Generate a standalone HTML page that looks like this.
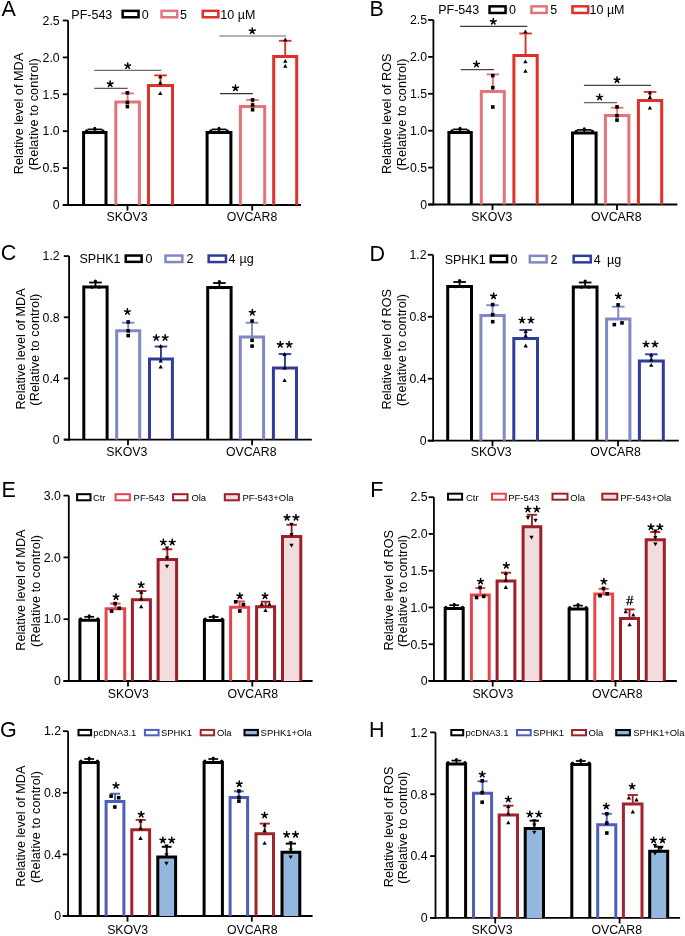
<!DOCTYPE html>
<html><head><meta charset="utf-8"><style>
html,body{margin:0;padding:0;background:#fff;overflow:hidden;}
svg{display:block;will-change:transform;}
text{font-family:"Liberation Sans", sans-serif;}
</style></head><body>
<svg width="685" height="936" viewBox="0 0 685 936">
<rect width="685" height="936" fill="#fff"/>
<text x="1.45" y="15.60" font-size="21.5" text-anchor="start" fill="#000" >A</text>
<line x1="68.10" y1="20.50" x2="68.10" y2="205.90" stroke="#000" stroke-width="1.8" stroke-linecap="butt"/>
<line x1="62.80" y1="205.00" x2="68.10" y2="205.00" stroke="#000" stroke-width="1.8" stroke-linecap="butt"/>
<text x="59.70" y="209.29" font-size="12.3" text-anchor="end" fill="#000" >0</text>
<line x1="62.80" y1="168.10" x2="68.10" y2="168.10" stroke="#000" stroke-width="1.8" stroke-linecap="butt"/>
<text x="59.70" y="172.39" font-size="12.3" text-anchor="end" fill="#000" >0.5</text>
<line x1="62.80" y1="131.20" x2="68.10" y2="131.20" stroke="#000" stroke-width="1.8" stroke-linecap="butt"/>
<text x="59.70" y="135.49" font-size="12.3" text-anchor="end" fill="#000" >1.0</text>
<line x1="62.80" y1="94.30" x2="68.10" y2="94.30" stroke="#000" stroke-width="1.8" stroke-linecap="butt"/>
<text x="59.70" y="98.59" font-size="12.3" text-anchor="end" fill="#000" >1.5</text>
<line x1="62.80" y1="57.40" x2="68.10" y2="57.40" stroke="#000" stroke-width="1.8" stroke-linecap="butt"/>
<text x="59.70" y="61.69" font-size="12.3" text-anchor="end" fill="#000" >2.0</text>
<line x1="62.80" y1="20.50" x2="68.10" y2="20.50" stroke="#000" stroke-width="1.8" stroke-linecap="butt"/>
<text x="59.70" y="24.79" font-size="12.3" text-anchor="end" fill="#000" >2.5</text>
<line x1="62.80" y1="205.00" x2="301.00" y2="205.00" stroke="#000" stroke-width="1.8" stroke-linecap="butt"/>
<line x1="127.50" y1="205.00" x2="127.50" y2="210.60" stroke="#000" stroke-width="1.8" stroke-linecap="butt"/>
<text x="127.10" y="221.10" font-size="12.3" text-anchor="middle" fill="#000" >SKOV3</text>
<line x1="252.20" y1="205.00" x2="252.20" y2="210.60" stroke="#000" stroke-width="1.8" stroke-linecap="butt"/>
<text x="252.00" y="221.10" font-size="12.3" text-anchor="middle" fill="#000" >OVCAR8</text>
<text x="0" y="0" font-size="12.7" text-anchor="middle" transform="translate(23.00,113.50) rotate(-90)">Relative level of MDA</text>
<text x="0" y="0" font-size="12.7" text-anchor="middle" textLength="112" lengthAdjust="spacing" transform="translate(38.10,114.30) rotate(-90)">(Relative to control)</text>
<text x="71.30" y="19.00" font-size="12.5" text-anchor="start" fill="#000" >PF-543</text>
<rect x="122.65" y="10.85" width="15.90" height="6.40" fill="none" stroke="#000" stroke-width="2.5"/>
<text x="141.80" y="19.00" font-size="12.5" text-anchor="start" fill="#000" >0</text>
<rect x="161.55" y="10.85" width="15.70" height="6.40" fill="none" stroke="#E2747A" stroke-width="2.5"/>
<text x="180.00" y="19.00" font-size="12.5" text-anchor="start" fill="#000" >5</text>
<rect x="202.75" y="10.85" width="15.60" height="6.40" fill="none" stroke="#DD3129" stroke-width="2.5"/>
<text x="220.30" y="19.00" font-size="12.5" text-anchor="start" fill="#000" >10 µM</text>
<line x1="94.80" y1="132.40" x2="94.80" y2="129.40" stroke="#000" stroke-width="1.7" stroke-linecap="butt"/>
<line x1="87.55" y1="129.40" x2="102.05" y2="129.40" stroke="#000" stroke-width="1.7" stroke-linecap="butt"/>
<path d="M83.60,205.00V132.40H106.00V205.00" fill="none" stroke="#000" stroke-width="3.0" stroke-linejoin="miter"/>
<circle cx="86.60" cy="130.70" r="1.50" fill="#000"/>
<circle cx="103.00" cy="130.70" r="1.50" fill="#000"/>
<circle cx="94.80" cy="128.30" r="1.50" fill="#000"/>
<line x1="127.60" y1="102.00" x2="127.60" y2="93.40" stroke="#E2747A" stroke-width="1.9" stroke-linecap="butt"/>
<line x1="121.35" y1="93.40" x2="133.85" y2="93.40" stroke="#E2747A" stroke-width="1.9" stroke-linecap="butt"/>
<path d="M115.80,205.00V102.00H139.40V205.00" fill="none" stroke="#E2747A" stroke-width="3.0" stroke-linejoin="miter"/>
<rect x="125.60" y="91.00" width="3.60" height="3.60" fill="#000"/>
<rect x="125.60" y="100.70" width="3.60" height="3.60" fill="#000"/>
<rect x="125.60" y="104.80" width="3.60" height="3.60" fill="#000"/>
<line x1="160.50" y1="85.50" x2="160.50" y2="75.40" stroke="#DD3129" stroke-width="1.9" stroke-linecap="butt"/>
<line x1="154.25" y1="75.40" x2="166.75" y2="75.40" stroke="#DD3129" stroke-width="1.9" stroke-linecap="butt"/>
<path d="M148.50,205.00V85.50H172.50V205.00" fill="none" stroke="#DD3129" stroke-width="3.0" stroke-linejoin="miter"/>
<path d="M160.30,74.51L162.46,78.29L158.14,78.29Z" fill="#000"/>
<path d="M160.30,80.81L162.46,84.59L158.14,84.59Z" fill="#000"/>
<path d="M160.30,91.31L162.46,95.09L158.14,95.09Z" fill="#000"/>
<line x1="219.00" y1="132.40" x2="219.00" y2="129.40" stroke="#000" stroke-width="1.7" stroke-linecap="butt"/>
<line x1="211.75" y1="129.40" x2="226.25" y2="129.40" stroke="#000" stroke-width="1.7" stroke-linecap="butt"/>
<path d="M207.10,205.00V132.40H230.90V205.00" fill="none" stroke="#000" stroke-width="3.0" stroke-linejoin="miter"/>
<circle cx="210.80" cy="130.70" r="1.50" fill="#000"/>
<circle cx="227.20" cy="130.70" r="1.50" fill="#000"/>
<circle cx="219.00" cy="128.30" r="1.50" fill="#000"/>
<line x1="252.55" y1="106.40" x2="252.55" y2="99.90" stroke="#E2747A" stroke-width="1.9" stroke-linecap="butt"/>
<line x1="246.30" y1="99.90" x2="258.80" y2="99.90" stroke="#E2747A" stroke-width="1.9" stroke-linecap="butt"/>
<path d="M240.40,205.00V106.40H264.70V205.00" fill="none" stroke="#E2747A" stroke-width="3.0" stroke-linejoin="miter"/>
<rect x="250.80" y="98.10" width="3.60" height="3.60" fill="#000"/>
<rect x="250.80" y="103.20" width="3.60" height="3.60" fill="#000"/>
<rect x="250.80" y="107.90" width="3.60" height="3.60" fill="#000"/>
<line x1="285.20" y1="56.50" x2="285.20" y2="40.80" stroke="#DD3129" stroke-width="1.9" stroke-linecap="butt"/>
<line x1="278.95" y1="40.80" x2="291.45" y2="40.80" stroke="#DD3129" stroke-width="1.9" stroke-linecap="butt"/>
<path d="M273.70,205.00V56.50H296.70V205.00" fill="none" stroke="#DD3129" stroke-width="3.0" stroke-linejoin="miter"/>
<path d="M285.30,37.41L287.46,41.19L283.14,41.19Z" fill="#000"/>
<path d="M285.30,58.91L287.46,62.69L283.14,62.69Z" fill="#000"/>
<path d="M285.30,64.01L287.46,67.79L283.14,67.79Z" fill="#000"/>
<line x1="94.20" y1="70.40" x2="161.30" y2="70.40" stroke="#6e6e6e" stroke-width="1.3" stroke-linecap="butt"/>
<line x1="94.20" y1="88.40" x2="127.70" y2="88.40" stroke="#5a5a5a" stroke-width="1.2" stroke-linecap="butt"/>
<line x1="219.30" y1="36.00" x2="286.10" y2="36.00" stroke="#9a9a9a" stroke-width="1.6" stroke-linecap="butt"/>
<line x1="220.00" y1="93.60" x2="253.00" y2="93.60" stroke="#333" stroke-width="1.1" stroke-linecap="butt"/>
<path d="M127.70,65.88L127.70,62.93M127.70,65.88L130.51,64.97M127.70,65.88L129.43,68.27M127.70,65.88L125.97,68.27M127.70,65.88L124.89,64.97" stroke="#000" stroke-width="1.55" stroke-linecap="round" fill="none"/>
<path d="M110.20,83.98L110.20,81.03M110.20,83.98L113.01,83.07M110.20,83.98L111.93,86.37M110.20,83.98L108.47,86.37M110.20,83.98L107.39,83.07" stroke="#000" stroke-width="1.55" stroke-linecap="round" fill="none"/>
<path d="M252.30,30.98L252.30,28.03M252.30,30.98L255.11,30.07M252.30,30.98L254.03,33.37M252.30,30.98L250.57,33.37M252.30,30.98L249.49,30.07" stroke="#000" stroke-width="1.55" stroke-linecap="round" fill="none"/>
<path d="M235.50,88.08L235.50,85.13M235.50,88.08L238.31,87.17M235.50,88.08L237.23,90.47M235.50,88.08L233.77,90.47M235.50,88.08L232.69,87.17" stroke="#000" stroke-width="1.55" stroke-linecap="round" fill="none"/>
<text x="369.60" y="16.40" font-size="21.5" text-anchor="start" fill="#000" >B</text>
<line x1="433.40" y1="20.00" x2="433.40" y2="205.40" stroke="#000" stroke-width="1.8" stroke-linecap="butt"/>
<line x1="428.10" y1="204.50" x2="433.40" y2="204.50" stroke="#000" stroke-width="1.8" stroke-linecap="butt"/>
<text x="427.10" y="208.79" font-size="12.3" text-anchor="end" fill="#000" >0</text>
<line x1="428.10" y1="167.60" x2="433.40" y2="167.60" stroke="#000" stroke-width="1.8" stroke-linecap="butt"/>
<text x="427.10" y="171.89" font-size="12.3" text-anchor="end" fill="#000" >0.5</text>
<line x1="428.10" y1="130.70" x2="433.40" y2="130.70" stroke="#000" stroke-width="1.8" stroke-linecap="butt"/>
<text x="427.10" y="134.99" font-size="12.3" text-anchor="end" fill="#000" >1.0</text>
<line x1="428.10" y1="93.80" x2="433.40" y2="93.80" stroke="#000" stroke-width="1.8" stroke-linecap="butt"/>
<text x="427.10" y="98.09" font-size="12.3" text-anchor="end" fill="#000" >1.5</text>
<line x1="428.10" y1="56.90" x2="433.40" y2="56.90" stroke="#000" stroke-width="1.8" stroke-linecap="butt"/>
<text x="427.10" y="61.19" font-size="12.3" text-anchor="end" fill="#000" >2.0</text>
<line x1="428.10" y1="20.00" x2="433.40" y2="20.00" stroke="#000" stroke-width="1.8" stroke-linecap="butt"/>
<text x="427.10" y="24.29" font-size="12.3" text-anchor="end" fill="#000" >2.5</text>
<line x1="428.10" y1="204.50" x2="677.30" y2="204.50" stroke="#000" stroke-width="1.8" stroke-linecap="butt"/>
<line x1="492.50" y1="204.50" x2="492.50" y2="210.10" stroke="#000" stroke-width="1.8" stroke-linecap="butt"/>
<text x="491.80" y="220.90" font-size="12.3" text-anchor="middle" fill="#000" >SKOV3</text>
<line x1="617.00" y1="204.50" x2="617.00" y2="210.10" stroke="#000" stroke-width="1.8" stroke-linecap="butt"/>
<text x="616.20" y="220.90" font-size="12.3" text-anchor="middle" fill="#000" >OVCAR8</text>
<text x="0" y="0" font-size="12.7" text-anchor="middle" transform="translate(391.00,113.80) rotate(-90)">Relative level of ROS</text>
<text x="0" y="0" font-size="12.7" text-anchor="middle" textLength="112" lengthAdjust="spacing" transform="translate(405.80,114.60) rotate(-90)">(Relative to control)</text>
<text x="438.20" y="14.40" font-size="12.5" text-anchor="start" fill="#000" >PF-543</text>
<rect x="489.55" y="6.35" width="16.00" height="6.60" fill="none" stroke="#000" stroke-width="2.5"/>
<text x="509.00" y="14.40" font-size="12.5" text-anchor="start" fill="#000" >0</text>
<rect x="531.45" y="6.35" width="15.20" height="6.60" fill="none" stroke="#E2747A" stroke-width="2.5"/>
<text x="550.20" y="14.40" font-size="12.5" text-anchor="start" fill="#000" >5</text>
<rect x="572.45" y="6.35" width="15.70" height="6.60" fill="none" stroke="#DD3129" stroke-width="2.5"/>
<text x="589.50" y="14.40" font-size="12.5" text-anchor="start" fill="#000" >10 µM</text>
<line x1="460.10" y1="132.40" x2="460.10" y2="129.40" stroke="#000" stroke-width="1.7" stroke-linecap="butt"/>
<line x1="452.85" y1="129.40" x2="467.35" y2="129.40" stroke="#000" stroke-width="1.7" stroke-linecap="butt"/>
<path d="M448.90,204.50V132.40H471.30V204.50" fill="none" stroke="#000" stroke-width="3.0" stroke-linejoin="miter"/>
<circle cx="451.90" cy="130.70" r="1.50" fill="#000"/>
<circle cx="468.30" cy="130.70" r="1.50" fill="#000"/>
<circle cx="460.10" cy="128.30" r="1.50" fill="#000"/>
<line x1="492.80" y1="91.50" x2="492.80" y2="74.40" stroke="#E2747A" stroke-width="1.9" stroke-linecap="butt"/>
<line x1="486.55" y1="74.40" x2="499.05" y2="74.40" stroke="#E2747A" stroke-width="1.9" stroke-linecap="butt"/>
<path d="M481.30,204.50V91.50H504.30V204.50" fill="none" stroke="#E2747A" stroke-width="3.0" stroke-linejoin="miter"/>
<rect x="491.00" y="73.80" width="3.60" height="3.60" fill="#000"/>
<rect x="491.00" y="85.80" width="3.60" height="3.60" fill="#000"/>
<rect x="491.00" y="105.20" width="3.60" height="3.60" fill="#000"/>
<line x1="525.55" y1="55.50" x2="525.55" y2="33.50" stroke="#DD3129" stroke-width="1.9" stroke-linecap="butt"/>
<line x1="519.30" y1="33.50" x2="531.80" y2="33.50" stroke="#DD3129" stroke-width="1.9" stroke-linecap="butt"/>
<path d="M513.90,204.50V55.50H537.20V204.50" fill="none" stroke="#DD3129" stroke-width="3.0" stroke-linejoin="miter"/>
<path d="M525.40,29.51L527.56,33.29L523.24,33.29Z" fill="#000"/>
<path d="M525.40,59.51L527.56,63.29L523.24,63.29Z" fill="#000"/>
<path d="M525.40,68.91L527.56,72.69L523.24,72.69Z" fill="#000"/>
<line x1="584.30" y1="132.90" x2="584.30" y2="129.90" stroke="#000" stroke-width="1.7" stroke-linecap="butt"/>
<line x1="577.05" y1="129.90" x2="591.55" y2="129.90" stroke="#000" stroke-width="1.7" stroke-linecap="butt"/>
<path d="M572.50,204.50V132.90H596.10V204.50" fill="none" stroke="#000" stroke-width="3.0" stroke-linejoin="miter"/>
<circle cx="576.10" cy="131.20" r="1.50" fill="#000"/>
<circle cx="592.50" cy="131.20" r="1.50" fill="#000"/>
<circle cx="584.30" cy="128.80" r="1.50" fill="#000"/>
<line x1="617.15" y1="115.60" x2="617.15" y2="107.70" stroke="#E2747A" stroke-width="1.9" stroke-linecap="butt"/>
<line x1="610.90" y1="107.70" x2="623.40" y2="107.70" stroke="#E2747A" stroke-width="1.9" stroke-linecap="butt"/>
<path d="M605.40,204.50V115.60H628.90V204.50" fill="none" stroke="#E2747A" stroke-width="3.0" stroke-linejoin="miter"/>
<rect x="615.20" y="105.10" width="3.60" height="3.60" fill="#000"/>
<rect x="615.20" y="113.90" width="3.60" height="3.60" fill="#000"/>
<rect x="615.20" y="118.30" width="3.60" height="3.60" fill="#000"/>
<line x1="650.05" y1="100.50" x2="650.05" y2="91.90" stroke="#DD3129" stroke-width="1.9" stroke-linecap="butt"/>
<line x1="643.80" y1="91.90" x2="656.30" y2="91.90" stroke="#DD3129" stroke-width="1.9" stroke-linecap="butt"/>
<path d="M638.40,204.50V100.50H661.70V204.50" fill="none" stroke="#DD3129" stroke-width="3.0" stroke-linejoin="miter"/>
<path d="M649.90,90.51L652.06,94.29L647.74,94.29Z" fill="#000"/>
<path d="M649.90,95.11L652.06,98.89L647.74,98.89Z" fill="#000"/>
<path d="M649.90,105.81L652.06,109.59L647.74,109.59Z" fill="#000"/>
<line x1="460.10" y1="26.40" x2="527.30" y2="26.40" stroke="#3a3a3a" stroke-width="1.1" stroke-linecap="butt"/>
<line x1="460.70" y1="69.60" x2="494.00" y2="69.60" stroke="#444" stroke-width="1.1" stroke-linecap="butt"/>
<line x1="583.90" y1="85.40" x2="651.00" y2="85.40" stroke="#444" stroke-width="1.2" stroke-linecap="butt"/>
<line x1="583.90" y1="102.60" x2="617.00" y2="102.60" stroke="#666" stroke-width="1.2" stroke-linecap="butt"/>
<path d="M493.30,21.58L493.30,18.63M493.30,21.58L496.11,20.67M493.30,21.58L495.03,23.97M493.30,21.58L491.57,23.97M493.30,21.58L490.49,20.67" stroke="#000" stroke-width="1.55" stroke-linecap="round" fill="none"/>
<path d="M476.50,64.28L476.50,61.33M476.50,64.28L479.31,63.37M476.50,64.28L478.23,66.67M476.50,64.28L474.77,66.67M476.50,64.28L473.69,63.37" stroke="#000" stroke-width="1.55" stroke-linecap="round" fill="none"/>
<path d="M617.00,79.98L617.00,77.03M617.00,79.98L619.81,79.07M617.00,79.98L618.73,82.37M617.00,79.98L615.27,82.37M617.00,79.98L614.19,79.07" stroke="#000" stroke-width="1.55" stroke-linecap="round" fill="none"/>
<path d="M599.60,97.28L599.60,94.33M599.60,97.28L602.41,96.37M599.60,97.28L601.33,99.67M599.60,97.28L597.87,99.67M599.60,97.28L596.79,96.37" stroke="#000" stroke-width="1.55" stroke-linecap="round" fill="none"/>
<text x="0.80" y="260.30" font-size="21.5" text-anchor="start" fill="#000" >C</text>
<line x1="69.10" y1="256.10" x2="69.10" y2="440.50" stroke="#000" stroke-width="1.8" stroke-linecap="butt"/>
<line x1="63.80" y1="439.60" x2="69.10" y2="439.60" stroke="#000" stroke-width="1.8" stroke-linecap="butt"/>
<text x="59.70" y="443.89" font-size="12.3" text-anchor="end" fill="#000" >0</text>
<line x1="63.80" y1="378.43" x2="69.10" y2="378.43" stroke="#000" stroke-width="1.8" stroke-linecap="butt"/>
<text x="59.70" y="382.73" font-size="12.3" text-anchor="end" fill="#000" >0.4</text>
<line x1="63.80" y1="317.27" x2="69.10" y2="317.27" stroke="#000" stroke-width="1.8" stroke-linecap="butt"/>
<text x="59.70" y="321.56" font-size="12.3" text-anchor="end" fill="#000" >0.8</text>
<line x1="63.80" y1="256.10" x2="69.10" y2="256.10" stroke="#000" stroke-width="1.8" stroke-linecap="butt"/>
<text x="59.70" y="260.39" font-size="12.3" text-anchor="end" fill="#000" >1.2</text>
<line x1="63.80" y1="439.60" x2="311.80" y2="439.60" stroke="#000" stroke-width="1.8" stroke-linecap="butt"/>
<line x1="128.00" y1="439.60" x2="128.00" y2="445.20" stroke="#000" stroke-width="1.8" stroke-linecap="butt"/>
<text x="126.75" y="456.10" font-size="12.3" text-anchor="middle" fill="#000" >SKOV3</text>
<line x1="252.10" y1="439.60" x2="252.10" y2="445.20" stroke="#000" stroke-width="1.8" stroke-linecap="butt"/>
<text x="251.20" y="456.10" font-size="12.3" text-anchor="middle" fill="#000" >OVCAR8</text>
<text x="0" y="0" font-size="12.7" text-anchor="middle" transform="translate(24.50,348.90) rotate(-90)">Relative level of MDA</text>
<text x="0" y="0" font-size="12.7" text-anchor="middle" textLength="112" lengthAdjust="spacing" transform="translate(39.30,349.70) rotate(-90)">(Relative to control)</text>
<text x="79.50" y="263.30" font-size="12.5" text-anchor="start" fill="#000" >SPHK1</text>
<rect x="125.75" y="255.55" width="15.90" height="6.30" fill="none" stroke="#000" stroke-width="2.5"/>
<text x="145.60" y="263.30" font-size="12.5" text-anchor="start" fill="#000" >0</text>
<rect x="165.55" y="255.55" width="16.80" height="6.50" fill="none" stroke="#8087C5" stroke-width="2.5"/>
<text x="186.60" y="263.30" font-size="12.5" text-anchor="start" fill="#000" >2</text>
<rect x="208.65" y="255.55" width="17.30" height="6.50" fill="none" stroke="#2F3C9B" stroke-width="2.5"/>
<text x="228.60" y="263.30" font-size="12.5" text-anchor="start" fill="#000" >4</text>
<text x="239.60" y="263.30" font-size="12.5" text-anchor="start" fill="#000" >µg</text>
<line x1="95.45" y1="286.90" x2="95.45" y2="282.50" stroke="#000" stroke-width="1.8" stroke-linecap="butt"/>
<line x1="89.15" y1="282.50" x2="101.75" y2="282.50" stroke="#000" stroke-width="1.8" stroke-linecap="butt"/>
<path d="M83.80,439.60V286.90H107.10V439.60" fill="none" stroke="#000" stroke-width="3.0" stroke-linejoin="miter"/>
<circle cx="91.75" cy="287.20" r="1.60" fill="#000"/>
<circle cx="99.15" cy="287.20" r="1.60" fill="#000"/>
<circle cx="95.45" cy="281.10" r="1.60" fill="#000"/>
<line x1="128.20" y1="330.80" x2="128.20" y2="322.70" stroke="#8087C5" stroke-width="1.9" stroke-linecap="butt"/>
<line x1="121.95" y1="322.70" x2="134.45" y2="322.70" stroke="#8087C5" stroke-width="1.9" stroke-linecap="butt"/>
<path d="M116.70,439.60V330.80H139.70V439.60" fill="none" stroke="#8087C5" stroke-width="3.0" stroke-linejoin="miter"/>
<rect x="126.40" y="320.20" width="3.60" height="3.60" fill="#000"/>
<rect x="126.40" y="329.10" width="3.60" height="3.60" fill="#000"/>
<rect x="126.40" y="333.80" width="3.60" height="3.60" fill="#000"/>
<line x1="160.95" y1="359.10" x2="160.95" y2="346.50" stroke="#2F3C9B" stroke-width="1.9" stroke-linecap="butt"/>
<line x1="154.70" y1="346.50" x2="167.20" y2="346.50" stroke="#2F3C9B" stroke-width="1.9" stroke-linecap="butt"/>
<path d="M149.50,439.60V359.10H172.40V439.60" fill="none" stroke="#2F3C9B" stroke-width="3.0" stroke-linejoin="miter"/>
<path d="M160.70,343.91L162.86,347.69L158.54,347.69Z" fill="#000"/>
<path d="M160.70,358.61L162.86,362.39L158.54,362.39Z" fill="#000"/>
<path d="M160.70,364.71L162.86,368.49L158.54,368.49Z" fill="#000"/>
<line x1="219.40" y1="287.40" x2="219.40" y2="283.00" stroke="#000" stroke-width="1.8" stroke-linecap="butt"/>
<line x1="213.10" y1="283.00" x2="225.70" y2="283.00" stroke="#000" stroke-width="1.8" stroke-linecap="butt"/>
<path d="M207.70,439.60V287.40H231.10V439.60" fill="none" stroke="#000" stroke-width="3.0" stroke-linejoin="miter"/>
<circle cx="215.70" cy="287.70" r="1.60" fill="#000"/>
<circle cx="223.10" cy="287.70" r="1.60" fill="#000"/>
<circle cx="219.40" cy="281.60" r="1.60" fill="#000"/>
<line x1="251.95" y1="337.10" x2="251.95" y2="322.70" stroke="#8087C5" stroke-width="1.9" stroke-linecap="butt"/>
<line x1="245.70" y1="322.70" x2="258.20" y2="322.70" stroke="#8087C5" stroke-width="1.9" stroke-linecap="butt"/>
<path d="M240.30,439.60V337.10H263.60V439.60" fill="none" stroke="#8087C5" stroke-width="3.0" stroke-linejoin="miter"/>
<rect x="250.30" y="319.20" width="3.60" height="3.60" fill="#000"/>
<rect x="250.30" y="338.50" width="3.60" height="3.60" fill="#000"/>
<rect x="250.30" y="344.30" width="3.60" height="3.60" fill="#000"/>
<line x1="284.95" y1="368.10" x2="284.95" y2="354.00" stroke="#2F3C9B" stroke-width="1.9" stroke-linecap="butt"/>
<line x1="278.70" y1="354.00" x2="291.20" y2="354.00" stroke="#2F3C9B" stroke-width="1.9" stroke-linecap="butt"/>
<path d="M273.40,439.60V368.10H296.50V439.60" fill="none" stroke="#2F3C9B" stroke-width="3.0" stroke-linejoin="miter"/>
<path d="M284.60,352.11L286.76,355.89L282.44,355.89Z" fill="#000"/>
<path d="M284.60,365.61L286.76,369.39L282.44,369.39Z" fill="#000"/>
<path d="M284.60,378.31L286.76,382.09L282.44,382.09Z" fill="#000"/>
<path d="M127.40,311.78L127.40,308.83M127.40,311.78L130.21,310.87M127.40,311.78L129.13,314.17M127.40,311.78L125.67,314.17M127.40,311.78L124.59,310.87" stroke="#000" stroke-width="1.55" stroke-linecap="round" fill="none"/>
<path d="M156.25,337.78L156.25,334.83M156.25,337.78L159.06,336.87M156.25,337.78L157.98,340.17M156.25,337.78L154.52,340.17M156.25,337.78L153.44,336.87" stroke="#000" stroke-width="1.55" stroke-linecap="round" fill="none"/>
<path d="M165.15,337.78L165.15,334.83M165.15,337.78L167.96,336.87M165.15,337.78L166.88,340.17M165.15,337.78L163.42,340.17M165.15,337.78L162.34,336.87" stroke="#000" stroke-width="1.55" stroke-linecap="round" fill="none"/>
<path d="M252.30,312.48L252.30,309.53M252.30,312.48L255.11,311.57M252.30,312.48L254.03,314.87M252.30,312.48L250.57,314.87M252.30,312.48L249.49,311.57" stroke="#000" stroke-width="1.55" stroke-linecap="round" fill="none"/>
<path d="M280.25,344.58L280.25,341.63M280.25,344.58L283.06,343.67M280.25,344.58L281.98,346.97M280.25,344.58L278.52,346.97M280.25,344.58L277.44,343.67" stroke="#000" stroke-width="1.55" stroke-linecap="round" fill="none"/>
<path d="M289.15,344.58L289.15,341.63M289.15,344.58L291.96,343.67M289.15,344.58L290.88,346.97M289.15,344.58L287.42,346.97M289.15,344.58L286.34,343.67" stroke="#000" stroke-width="1.55" stroke-linecap="round" fill="none"/>
<text x="369.50" y="260.70" font-size="21.5" text-anchor="start" fill="#000" >D</text>
<line x1="433.10" y1="254.80" x2="433.10" y2="441.60" stroke="#000" stroke-width="1.8" stroke-linecap="butt"/>
<line x1="427.80" y1="440.70" x2="433.10" y2="440.70" stroke="#000" stroke-width="1.8" stroke-linecap="butt"/>
<text x="426.60" y="444.99" font-size="12.3" text-anchor="end" fill="#000" >0</text>
<line x1="427.80" y1="378.73" x2="433.10" y2="378.73" stroke="#000" stroke-width="1.8" stroke-linecap="butt"/>
<text x="426.60" y="383.03" font-size="12.3" text-anchor="end" fill="#000" >0.4</text>
<line x1="427.80" y1="316.77" x2="433.10" y2="316.77" stroke="#000" stroke-width="1.8" stroke-linecap="butt"/>
<text x="426.60" y="321.06" font-size="12.3" text-anchor="end" fill="#000" >0.8</text>
<line x1="427.80" y1="254.80" x2="433.10" y2="254.80" stroke="#000" stroke-width="1.8" stroke-linecap="butt"/>
<text x="426.60" y="259.09" font-size="12.3" text-anchor="end" fill="#000" >1.2</text>
<line x1="427.80" y1="440.70" x2="678.80" y2="440.70" stroke="#000" stroke-width="1.8" stroke-linecap="butt"/>
<line x1="492.50" y1="440.70" x2="492.50" y2="446.30" stroke="#000" stroke-width="1.8" stroke-linecap="butt"/>
<text x="491.20" y="456.30" font-size="12.3" text-anchor="middle" fill="#000" >SKOV3</text>
<line x1="618.00" y1="440.70" x2="618.00" y2="446.30" stroke="#000" stroke-width="1.8" stroke-linecap="butt"/>
<text x="615.60" y="456.30" font-size="12.3" text-anchor="middle" fill="#000" >OVCAR8</text>
<text x="0" y="0" font-size="12.7" text-anchor="middle" transform="translate(391.40,349.20) rotate(-90)">Relative level of ROS</text>
<text x="0" y="0" font-size="12.7" text-anchor="middle" textLength="112" lengthAdjust="spacing" transform="translate(405.70,350.00) rotate(-90)">(Relative to control)</text>
<text x="444.70" y="263.80" font-size="12.5" text-anchor="start" fill="#000" >SPHK1</text>
<rect x="490.75" y="255.75" width="16.30" height="6.40" fill="none" stroke="#000" stroke-width="2.5"/>
<text x="510.60" y="263.80" font-size="12.5" text-anchor="start" fill="#000" >0</text>
<rect x="529.85" y="255.85" width="16.80" height="6.50" fill="none" stroke="#8087C5" stroke-width="2.5"/>
<text x="550.50" y="263.80" font-size="12.5" text-anchor="start" fill="#000" >2</text>
<rect x="573.65" y="255.85" width="17.10" height="6.50" fill="none" stroke="#2F3C9B" stroke-width="2.5"/>
<text x="593.70" y="263.80" font-size="12.5" text-anchor="start" fill="#000" >4</text>
<text x="607.00" y="263.80" font-size="12.5" text-anchor="start" fill="#000" >µg</text>
<line x1="459.60" y1="286.40" x2="459.60" y2="282.00" stroke="#000" stroke-width="1.8" stroke-linecap="butt"/>
<line x1="453.30" y1="282.00" x2="465.90" y2="282.00" stroke="#000" stroke-width="1.8" stroke-linecap="butt"/>
<path d="M447.70,440.70V286.40H471.50V440.70" fill="none" stroke="#000" stroke-width="3.0" stroke-linejoin="miter"/>
<circle cx="455.90" cy="286.70" r="1.60" fill="#000"/>
<circle cx="463.30" cy="286.70" r="1.60" fill="#000"/>
<circle cx="459.60" cy="280.60" r="1.60" fill="#000"/>
<line x1="492.55" y1="315.40" x2="492.55" y2="305.20" stroke="#8087C5" stroke-width="1.9" stroke-linecap="butt"/>
<line x1="486.30" y1="305.20" x2="498.80" y2="305.20" stroke="#8087C5" stroke-width="1.9" stroke-linecap="butt"/>
<path d="M480.90,440.70V315.40H504.20V440.70" fill="none" stroke="#8087C5" stroke-width="3.0" stroke-linejoin="miter"/>
<rect x="490.90" y="302.80" width="3.60" height="3.60" fill="#000"/>
<rect x="490.90" y="312.90" width="3.60" height="3.60" fill="#000"/>
<rect x="490.90" y="319.90" width="3.60" height="3.60" fill="#000"/>
<line x1="525.65" y1="338.50" x2="525.65" y2="330.00" stroke="#2F3C9B" stroke-width="1.9" stroke-linecap="butt"/>
<line x1="519.40" y1="330.00" x2="531.90" y2="330.00" stroke="#2F3C9B" stroke-width="1.9" stroke-linecap="butt"/>
<path d="M513.80,440.70V338.50H537.50V440.70" fill="none" stroke="#2F3C9B" stroke-width="3.0" stroke-linejoin="miter"/>
<path d="M525.70,329.31L527.86,333.09L523.54,333.09Z" fill="#000"/>
<path d="M525.70,333.71L527.86,337.49L523.54,337.49Z" fill="#000"/>
<path d="M525.70,343.61L527.86,347.39L523.54,347.39Z" fill="#000"/>
<line x1="585.15" y1="286.90" x2="585.15" y2="282.50" stroke="#000" stroke-width="1.8" stroke-linecap="butt"/>
<line x1="578.85" y1="282.50" x2="591.45" y2="282.50" stroke="#000" stroke-width="1.8" stroke-linecap="butt"/>
<path d="M573.30,440.70V286.90H597.00V440.70" fill="none" stroke="#000" stroke-width="3.0" stroke-linejoin="miter"/>
<circle cx="581.45" cy="287.20" r="1.60" fill="#000"/>
<circle cx="588.85" cy="287.20" r="1.60" fill="#000"/>
<circle cx="585.15" cy="281.10" r="1.60" fill="#000"/>
<line x1="618.25" y1="319.10" x2="618.25" y2="306.70" stroke="#8087C5" stroke-width="1.9" stroke-linecap="butt"/>
<line x1="612.00" y1="306.70" x2="624.50" y2="306.70" stroke="#8087C5" stroke-width="1.9" stroke-linecap="butt"/>
<path d="M606.60,440.70V319.10H629.90V440.70" fill="none" stroke="#8087C5" stroke-width="3.0" stroke-linejoin="miter"/>
<rect x="616.30" y="303.10" width="3.60" height="3.60" fill="#000"/>
<rect x="612.50" y="322.80" width="3.60" height="3.60" fill="#000"/>
<rect x="620.20" y="321.10" width="3.60" height="3.60" fill="#000"/>
<line x1="651.35" y1="361.10" x2="651.35" y2="354.30" stroke="#2F3C9B" stroke-width="1.9" stroke-linecap="butt"/>
<line x1="645.10" y1="354.30" x2="657.60" y2="354.30" stroke="#2F3C9B" stroke-width="1.9" stroke-linecap="butt"/>
<path d="M639.40,440.70V361.10H663.30V440.70" fill="none" stroke="#2F3C9B" stroke-width="3.0" stroke-linejoin="miter"/>
<path d="M651.20,352.71L653.36,356.49L649.04,356.49Z" fill="#000"/>
<path d="M651.20,357.71L653.36,361.49L649.04,361.49Z" fill="#000"/>
<path d="M651.20,362.91L653.36,366.69L649.04,366.69Z" fill="#000"/>
<path d="M493.60,296.08L493.60,293.13M493.60,296.08L496.41,295.17M493.60,296.08L495.33,298.47M493.60,296.08L491.87,298.47M493.60,296.08L490.79,295.17" stroke="#000" stroke-width="1.55" stroke-linecap="round" fill="none"/>
<path d="M522.05,320.28L522.05,317.33M522.05,320.28L524.86,319.37M522.05,320.28L523.78,322.67M522.05,320.28L520.32,322.67M522.05,320.28L519.24,319.37" stroke="#000" stroke-width="1.55" stroke-linecap="round" fill="none"/>
<path d="M530.95,320.28L530.95,317.33M530.95,320.28L533.76,319.37M530.95,320.28L532.68,322.67M530.95,320.28L529.22,322.67M530.95,320.28L528.14,319.37" stroke="#000" stroke-width="1.55" stroke-linecap="round" fill="none"/>
<path d="M618.40,296.08L618.40,293.13M618.40,296.08L621.21,295.17M618.40,296.08L620.13,298.47M618.40,296.08L616.67,298.47M618.40,296.08L615.59,295.17" stroke="#000" stroke-width="1.55" stroke-linecap="round" fill="none"/>
<path d="M646.05,344.28L646.05,341.33M646.05,344.28L648.86,343.37M646.05,344.28L647.78,346.67M646.05,344.28L644.32,346.67M646.05,344.28L643.24,343.37" stroke="#000" stroke-width="1.55" stroke-linecap="round" fill="none"/>
<path d="M654.95,344.28L654.95,341.33M654.95,344.28L657.76,343.37M654.95,344.28L656.68,346.67M654.95,344.28L653.22,346.67M654.95,344.28L652.14,343.37" stroke="#000" stroke-width="1.55" stroke-linecap="round" fill="none"/>
<text x="1.40" y="496.70" font-size="21.5" text-anchor="start" fill="#000" >E</text>
<line x1="68.80" y1="495.60" x2="68.80" y2="681.90" stroke="#000" stroke-width="1.8" stroke-linecap="butt"/>
<line x1="63.50" y1="681.00" x2="68.80" y2="681.00" stroke="#000" stroke-width="1.8" stroke-linecap="butt"/>
<text x="60.80" y="685.29" font-size="12.3" text-anchor="end" fill="#000" >0</text>
<line x1="63.50" y1="619.20" x2="68.80" y2="619.20" stroke="#000" stroke-width="1.8" stroke-linecap="butt"/>
<text x="60.80" y="623.49" font-size="12.3" text-anchor="end" fill="#000" >1.0</text>
<line x1="63.50" y1="557.40" x2="68.80" y2="557.40" stroke="#000" stroke-width="1.8" stroke-linecap="butt"/>
<text x="60.80" y="561.69" font-size="12.3" text-anchor="end" fill="#000" >2.0</text>
<line x1="63.50" y1="495.60" x2="68.80" y2="495.60" stroke="#000" stroke-width="1.8" stroke-linecap="butt"/>
<text x="60.80" y="499.89" font-size="12.3" text-anchor="end" fill="#000" >3.0</text>
<line x1="63.50" y1="681.00" x2="312.60" y2="681.00" stroke="#000" stroke-width="1.8" stroke-linecap="butt"/>
<line x1="128.00" y1="681.00" x2="128.00" y2="686.60" stroke="#000" stroke-width="1.8" stroke-linecap="butt"/>
<text x="128.35" y="697.70" font-size="12.3" text-anchor="middle" fill="#000" >SKOV3</text>
<line x1="252.30" y1="681.00" x2="252.30" y2="686.60" stroke="#000" stroke-width="1.8" stroke-linecap="butt"/>
<text x="252.85" y="697.70" font-size="12.3" text-anchor="middle" fill="#000" >OVCAR8</text>
<text x="0" y="0" font-size="12.7" text-anchor="middle" transform="translate(24.70,590.10) rotate(-90)">Relative level of MDA</text>
<text x="0" y="0" font-size="12.7" text-anchor="middle" textLength="112" lengthAdjust="spacing" transform="translate(39.70,590.90) rotate(-90)">(Relative to control)</text>
<rect x="77.10" y="494.20" width="13.40" height="6.10" fill="none" stroke="#000" stroke-width="2.0"/>
<text x="92.90" y="501.20" font-size="9.45" text-anchor="start" fill="#000" >Ctr</text>
<rect x="115.60" y="494.20" width="14.20" height="6.10" fill="none" stroke="#E8434A" stroke-width="2.0"/>
<text x="133.60" y="501.20" font-size="9.45" text-anchor="start" fill="#000" >PF-543</text>
<rect x="173.10" y="494.20" width="14.40" height="6.10" fill="none" stroke="#9E1F27" stroke-width="2.0"/>
<text x="191.40" y="501.20" font-size="9.45" text-anchor="start" fill="#000" >Ola</text>
<rect x="224.80" y="494.20" width="14.10" height="6.10" fill="#F2DCDE" stroke="#9E1F27" stroke-width="2.0"/>
<text x="242.40" y="501.20" font-size="9.45" text-anchor="start" fill="#000" >PF-543+Ola</text>
<line x1="89.20" y1="620.20" x2="89.20" y2="616.80" stroke="#000" stroke-width="1.7" stroke-linecap="butt"/>
<line x1="84.30" y1="616.80" x2="94.10" y2="616.80" stroke="#000" stroke-width="1.7" stroke-linecap="butt"/>
<path d="M79.90,681.00V620.20H98.50V681.00" fill="none" stroke="#000" stroke-width="3.0" stroke-linejoin="miter"/>
<circle cx="80.60" cy="618.90" r="1.60" fill="#000"/>
<circle cx="97.80" cy="618.90" r="1.60" fill="#000"/>
<circle cx="89.20" cy="615.80" r="1.50" fill="#000"/>
<line x1="115.40" y1="608.80" x2="115.40" y2="603.60" stroke="#E8434A" stroke-width="1.9" stroke-linecap="butt"/>
<line x1="110.20" y1="603.60" x2="120.60" y2="603.60" stroke="#E8434A" stroke-width="1.9" stroke-linecap="butt"/>
<path d="M106.10,681.00V608.80H124.70V681.00" fill="none" stroke="#E8434A" stroke-width="3.0" stroke-linejoin="miter"/>
<rect x="113.30" y="601.80" width="3.60" height="3.60" fill="#000"/>
<rect x="117.40" y="606.40" width="3.60" height="3.60" fill="#000"/>
<rect x="109.80" y="609.30" width="3.60" height="3.60" fill="#000"/>
<line x1="141.40" y1="599.70" x2="141.40" y2="591.00" stroke="#9E1F27" stroke-width="1.9" stroke-linecap="butt"/>
<line x1="136.35" y1="591.00" x2="146.45" y2="591.00" stroke="#9E1F27" stroke-width="1.9" stroke-linecap="butt"/>
<path d="M132.40,681.00V599.70H150.40V681.00" fill="none" stroke="#9E1F27" stroke-width="3.0" stroke-linejoin="miter"/>
<path d="M141.20,589.91L143.36,593.69L139.04,593.69Z" fill="#000"/>
<path d="M141.20,596.71L143.36,600.49L139.04,600.49Z" fill="#000"/>
<path d="M141.20,604.41L143.36,608.19L139.04,608.19Z" fill="#000"/>
<line x1="167.35" y1="559.50" x2="167.35" y2="549.30" stroke="#9E1F27" stroke-width="1.9" stroke-linecap="butt"/>
<line x1="162.35" y1="549.30" x2="172.35" y2="549.30" stroke="#9E1F27" stroke-width="1.9" stroke-linecap="butt"/>
<path d="M158.10,681.00V559.50H176.60V681.00" fill="#F2DCDE" stroke="#9E1F27" stroke-width="3.0" stroke-linejoin="miter"/>
<path d="M167.00,550.39L169.16,546.61L164.84,546.61Z" fill="#000"/>
<path d="M167.00,559.99L169.16,556.21L164.84,556.21Z" fill="#000"/>
<path d="M167.00,568.49L169.16,564.71L164.84,564.71Z" fill="#000"/>
<line x1="213.65" y1="620.40" x2="213.65" y2="617.00" stroke="#000" stroke-width="1.7" stroke-linecap="butt"/>
<line x1="208.75" y1="617.00" x2="218.55" y2="617.00" stroke="#000" stroke-width="1.7" stroke-linecap="butt"/>
<path d="M204.40,681.00V620.40H222.90V681.00" fill="none" stroke="#000" stroke-width="3.0" stroke-linejoin="miter"/>
<circle cx="205.10" cy="619.10" r="1.60" fill="#000"/>
<circle cx="222.20" cy="619.10" r="1.60" fill="#000"/>
<circle cx="213.65" cy="616.00" r="1.50" fill="#000"/>
<line x1="239.60" y1="607.30" x2="239.60" y2="601.40" stroke="#E8434A" stroke-width="1.9" stroke-linecap="butt"/>
<line x1="234.40" y1="601.40" x2="244.80" y2="601.40" stroke="#E8434A" stroke-width="1.9" stroke-linecap="butt"/>
<path d="M230.60,681.00V607.30H248.60V681.00" fill="none" stroke="#E8434A" stroke-width="3.0" stroke-linejoin="miter"/>
<rect x="233.90" y="600.00" width="3.60" height="3.60" fill="#000"/>
<rect x="241.60" y="602.80" width="3.60" height="3.60" fill="#000"/>
<rect x="238.00" y="609.20" width="3.60" height="3.60" fill="#000"/>
<line x1="265.60" y1="606.80" x2="265.60" y2="601.70" stroke="#9E1F27" stroke-width="1.9" stroke-linecap="butt"/>
<line x1="260.80" y1="601.70" x2="270.40" y2="601.70" stroke="#9E1F27" stroke-width="1.9" stroke-linecap="butt"/>
<path d="M256.60,681.00V606.80H274.60V681.00" fill="none" stroke="#9E1F27" stroke-width="3.0" stroke-linejoin="miter"/>
<path d="M261.80,601.91L263.96,605.69L259.64,605.69Z" fill="#000"/>
<path d="M269.40,601.91L271.56,605.69L267.24,605.69Z" fill="#000"/>
<path d="M265.50,608.31L267.66,612.09L263.34,612.09Z" fill="#000"/>
<line x1="291.65" y1="536.60" x2="291.65" y2="524.80" stroke="#9E1F27" stroke-width="1.9" stroke-linecap="butt"/>
<line x1="286.50" y1="524.80" x2="296.80" y2="524.80" stroke="#9E1F27" stroke-width="1.9" stroke-linecap="butt"/>
<path d="M282.50,681.00V536.60H300.80V681.00" fill="#F2DCDE" stroke="#9E1F27" stroke-width="3.0" stroke-linejoin="miter"/>
<path d="M291.50,526.49L293.66,522.71L289.34,522.71Z" fill="#000"/>
<path d="M291.50,537.09L293.66,533.31L289.34,533.31Z" fill="#000"/>
<path d="M291.50,547.49L293.66,543.71L289.34,543.71Z" fill="#000"/>
<path d="M116.00,596.88L116.00,593.93M116.00,596.88L118.81,595.97M116.00,596.88L117.73,599.27M116.00,596.88L114.27,599.27M116.00,596.88L113.19,595.97" stroke="#000" stroke-width="1.55" stroke-linecap="round" fill="none"/>
<path d="M141.20,584.88L141.20,581.93M141.20,584.88L144.01,583.97M141.20,584.88L142.93,587.27M141.20,584.88L139.47,587.27M141.20,584.88L138.39,583.97" stroke="#000" stroke-width="1.55" stroke-linecap="round" fill="none"/>
<path d="M163.35,542.28L163.35,539.33M163.35,542.28L166.16,541.37M163.35,542.28L165.08,544.67M163.35,542.28L161.62,544.67M163.35,542.28L160.54,541.37" stroke="#000" stroke-width="1.55" stroke-linecap="round" fill="none"/>
<path d="M172.25,542.28L172.25,539.33M172.25,542.28L175.06,541.37M172.25,542.28L173.98,544.67M172.25,542.28L170.52,544.67M172.25,542.28L169.44,541.37" stroke="#000" stroke-width="1.55" stroke-linecap="round" fill="none"/>
<path d="M239.80,595.98L239.80,593.03M239.80,595.98L242.61,595.07M239.80,595.98L241.53,598.37M239.80,595.98L238.07,598.37M239.80,595.98L236.99,595.07" stroke="#000" stroke-width="1.55" stroke-linecap="round" fill="none"/>
<path d="M265.00,595.98L265.00,593.03M265.00,595.98L267.81,595.07M265.00,595.98L266.73,598.37M265.00,595.98L263.27,598.37M265.00,595.98L262.19,595.07" stroke="#000" stroke-width="1.55" stroke-linecap="round" fill="none"/>
<path d="M287.05,517.58L287.05,514.63M287.05,517.58L289.86,516.67M287.05,517.58L288.78,519.97M287.05,517.58L285.32,519.97M287.05,517.58L284.24,516.67" stroke="#000" stroke-width="1.55" stroke-linecap="round" fill="none"/>
<path d="M295.95,517.58L295.95,514.63M295.95,517.58L298.76,516.67M295.95,517.58L297.68,519.97M295.95,517.58L294.22,519.97M295.95,517.58L293.14,516.67" stroke="#000" stroke-width="1.55" stroke-linecap="round" fill="none"/>
<text x="370.20" y="497.40" font-size="21.5" text-anchor="start" fill="#000" >F</text>
<line x1="433.90" y1="497.20" x2="433.90" y2="681.90" stroke="#000" stroke-width="1.8" stroke-linecap="butt"/>
<line x1="428.60" y1="681.00" x2="433.90" y2="681.00" stroke="#000" stroke-width="1.8" stroke-linecap="butt"/>
<text x="427.50" y="685.29" font-size="12.3" text-anchor="end" fill="#000" >0</text>
<line x1="428.60" y1="644.24" x2="433.90" y2="644.24" stroke="#000" stroke-width="1.8" stroke-linecap="butt"/>
<text x="427.50" y="648.53" font-size="12.3" text-anchor="end" fill="#000" >0.5</text>
<line x1="428.60" y1="607.48" x2="433.90" y2="607.48" stroke="#000" stroke-width="1.8" stroke-linecap="butt"/>
<text x="427.50" y="611.77" font-size="12.3" text-anchor="end" fill="#000" >1.0</text>
<line x1="428.60" y1="570.72" x2="433.90" y2="570.72" stroke="#000" stroke-width="1.8" stroke-linecap="butt"/>
<text x="427.50" y="575.01" font-size="12.3" text-anchor="end" fill="#000" >1.5</text>
<line x1="428.60" y1="533.96" x2="433.90" y2="533.96" stroke="#000" stroke-width="1.8" stroke-linecap="butt"/>
<text x="427.50" y="538.25" font-size="12.3" text-anchor="end" fill="#000" >2.0</text>
<line x1="428.60" y1="497.20" x2="433.90" y2="497.20" stroke="#000" stroke-width="1.8" stroke-linecap="butt"/>
<text x="427.50" y="501.49" font-size="12.3" text-anchor="end" fill="#000" >2.5</text>
<line x1="428.60" y1="681.00" x2="676.90" y2="681.00" stroke="#000" stroke-width="1.8" stroke-linecap="butt"/>
<line x1="492.70" y1="681.00" x2="492.70" y2="686.60" stroke="#000" stroke-width="1.8" stroke-linecap="butt"/>
<text x="492.90" y="697.80" font-size="12.3" text-anchor="middle" fill="#000" >SKOV3</text>
<line x1="615.50" y1="681.00" x2="615.50" y2="686.60" stroke="#000" stroke-width="1.8" stroke-linecap="butt"/>
<text x="617.30" y="697.80" font-size="12.3" text-anchor="middle" fill="#000" >OVCAR8</text>
<text x="0" y="0" font-size="12.7" text-anchor="middle" transform="translate(392.90,590.20) rotate(-90)">Relative level of ROS</text>
<text x="0" y="0" font-size="12.7" text-anchor="middle" textLength="112" lengthAdjust="spacing" transform="translate(407.30,591.00) rotate(-90)">(Relative to control)</text>
<rect x="448.00" y="493.70" width="14.10" height="6.00" fill="none" stroke="#000" stroke-width="2.0"/>
<text x="466.00" y="500.90" font-size="9.45" text-anchor="start" fill="#000" >Ctr</text>
<rect x="492.00" y="493.70" width="13.80" height="6.00" fill="none" stroke="#E8434A" stroke-width="2.0"/>
<text x="508.20" y="500.90" font-size="9.45" text-anchor="start" fill="#000" >PF-543</text>
<rect x="552.50" y="493.70" width="15.00" height="6.00" fill="none" stroke="#9E1F27" stroke-width="2.0"/>
<text x="570.30" y="500.90" font-size="9.45" text-anchor="start" fill="#000" >Ola</text>
<rect x="602.30" y="493.70" width="15.00" height="6.00" fill="#F2DCDE" stroke="#9E1F27" stroke-width="2.0"/>
<text x="620.20" y="500.90" font-size="9.45" text-anchor="start" fill="#000" >PF-543+Ola</text>
<line x1="454.20" y1="608.60" x2="454.20" y2="605.20" stroke="#000" stroke-width="1.7" stroke-linecap="butt"/>
<line x1="449.30" y1="605.20" x2="459.10" y2="605.20" stroke="#000" stroke-width="1.7" stroke-linecap="butt"/>
<path d="M445.20,681.00V608.60H463.20V681.00" fill="none" stroke="#000" stroke-width="3.0" stroke-linejoin="miter"/>
<circle cx="445.90" cy="607.30" r="1.60" fill="#000"/>
<circle cx="462.50" cy="607.30" r="1.60" fill="#000"/>
<circle cx="454.20" cy="604.20" r="1.50" fill="#000"/>
<line x1="480.30" y1="594.90" x2="480.30" y2="588.00" stroke="#E8434A" stroke-width="1.9" stroke-linecap="butt"/>
<line x1="475.30" y1="588.00" x2="485.30" y2="588.00" stroke="#E8434A" stroke-width="1.9" stroke-linecap="butt"/>
<path d="M471.40,681.00V594.90H489.20V681.00" fill="none" stroke="#E8434A" stroke-width="3.0" stroke-linejoin="miter"/>
<rect x="478.30" y="585.70" width="3.60" height="3.60" fill="#000"/>
<rect x="474.80" y="595.70" width="3.60" height="3.60" fill="#000"/>
<rect x="481.90" y="594.60" width="3.60" height="3.60" fill="#000"/>
<line x1="506.00" y1="581.10" x2="506.00" y2="572.70" stroke="#9E1F27" stroke-width="1.9" stroke-linecap="butt"/>
<line x1="501.00" y1="572.70" x2="511.00" y2="572.70" stroke="#9E1F27" stroke-width="1.9" stroke-linecap="butt"/>
<path d="M497.10,681.00V581.10H514.90V681.00" fill="none" stroke="#9E1F27" stroke-width="3.0" stroke-linejoin="miter"/>
<path d="M505.80,571.21L507.96,574.99L503.64,574.99Z" fill="#000"/>
<path d="M505.80,577.91L507.96,581.69L503.64,581.69Z" fill="#000"/>
<path d="M505.80,585.11L507.96,588.89L503.64,588.89Z" fill="#000"/>
<line x1="531.95" y1="526.80" x2="531.95" y2="514.80" stroke="#9E1F27" stroke-width="1.9" stroke-linecap="butt"/>
<line x1="526.95" y1="514.80" x2="536.95" y2="514.80" stroke="#9E1F27" stroke-width="1.9" stroke-linecap="butt"/>
<path d="M523.10,681.00V526.80H540.80V681.00" fill="#F2DCDE" stroke="#9E1F27" stroke-width="3.0" stroke-linejoin="miter"/>
<path d="M528.00,519.89L530.16,516.11L525.84,516.11Z" fill="#000"/>
<path d="M535.60,522.49L537.76,518.71L533.44,518.71Z" fill="#000"/>
<path d="M531.50,539.59L533.66,535.81L529.34,535.81Z" fill="#000"/>
<line x1="578.00" y1="609.00" x2="578.00" y2="605.60" stroke="#000" stroke-width="1.7" stroke-linecap="butt"/>
<line x1="573.10" y1="605.60" x2="582.90" y2="605.60" stroke="#000" stroke-width="1.7" stroke-linecap="butt"/>
<path d="M569.10,681.00V609.00H586.90V681.00" fill="none" stroke="#000" stroke-width="3.0" stroke-linejoin="miter"/>
<circle cx="569.80" cy="607.70" r="1.60" fill="#000"/>
<circle cx="586.20" cy="607.70" r="1.60" fill="#000"/>
<circle cx="578.00" cy="604.60" r="1.50" fill="#000"/>
<line x1="603.70" y1="593.90" x2="603.70" y2="588.80" stroke="#E8434A" stroke-width="1.9" stroke-linecap="butt"/>
<line x1="598.70" y1="588.80" x2="608.70" y2="588.80" stroke="#E8434A" stroke-width="1.9" stroke-linecap="butt"/>
<path d="M594.80,681.00V593.90H612.60V681.00" fill="none" stroke="#E8434A" stroke-width="3.0" stroke-linejoin="miter"/>
<rect x="601.70" y="586.70" width="3.60" height="3.60" fill="#000"/>
<rect x="598.20" y="593.90" width="3.60" height="3.60" fill="#000"/>
<rect x="605.40" y="592.00" width="3.60" height="3.60" fill="#000"/>
<line x1="629.50" y1="618.50" x2="629.50" y2="609.40" stroke="#9E1F27" stroke-width="1.9" stroke-linecap="butt"/>
<line x1="624.35" y1="609.40" x2="634.65" y2="609.40" stroke="#9E1F27" stroke-width="1.9" stroke-linecap="butt"/>
<path d="M620.50,681.00V618.50H638.50V681.00" fill="none" stroke="#9E1F27" stroke-width="3.0" stroke-linejoin="miter"/>
<path d="M625.70,609.41L627.86,613.19L623.54,613.19Z" fill="#000"/>
<path d="M633.30,612.81L635.46,616.59L631.14,616.59Z" fill="#000"/>
<path d="M629.60,622.41L631.76,626.19L627.44,626.19Z" fill="#000"/>
<line x1="655.25" y1="539.80" x2="655.25" y2="532.00" stroke="#9E1F27" stroke-width="1.9" stroke-linecap="butt"/>
<line x1="650.25" y1="532.00" x2="660.25" y2="532.00" stroke="#9E1F27" stroke-width="1.9" stroke-linecap="butt"/>
<path d="M646.20,681.00V539.80H664.30V681.00" fill="#F2DCDE" stroke="#9E1F27" stroke-width="3.0" stroke-linejoin="miter"/>
<path d="M655.40,533.39L657.56,529.61L653.24,529.61Z" fill="#000"/>
<path d="M655.40,539.79L657.56,536.01L653.24,536.01Z" fill="#000"/>
<path d="M655.40,546.19L657.56,542.41L653.24,542.41Z" fill="#000"/>
<path d="M480.60,581.38L480.60,578.43M480.60,581.38L483.41,580.47M480.60,581.38L482.33,583.77M480.60,581.38L478.87,583.77M480.60,581.38L477.79,580.47" stroke="#000" stroke-width="1.55" stroke-linecap="round" fill="none"/>
<path d="M506.30,565.58L506.30,562.63M506.30,565.58L509.11,564.67M506.30,565.58L508.03,567.97M506.30,565.58L504.57,567.97M506.30,565.58L503.49,564.67" stroke="#000" stroke-width="1.55" stroke-linecap="round" fill="none"/>
<path d="M527.85,509.28L527.85,506.33M527.85,509.28L530.66,508.37M527.85,509.28L529.58,511.67M527.85,509.28L526.12,511.67M527.85,509.28L525.04,508.37" stroke="#000" stroke-width="1.55" stroke-linecap="round" fill="none"/>
<path d="M536.75,509.28L536.75,506.33M536.75,509.28L539.56,508.37M536.75,509.28L538.48,511.67M536.75,509.28L535.02,511.67M536.75,509.28L533.94,508.37" stroke="#000" stroke-width="1.55" stroke-linecap="round" fill="none"/>
<path d="M603.90,581.48L603.90,578.53M603.90,581.48L606.71,580.57M603.90,581.48L605.63,583.87M603.90,581.48L602.17,583.87M603.90,581.48L601.09,580.57" stroke="#000" stroke-width="1.55" stroke-linecap="round" fill="none"/>
<path d="M650.95,526.98L650.95,524.03M650.95,526.98L653.76,526.07M650.95,526.98L652.68,529.37M650.95,526.98L649.22,529.37M650.95,526.98L648.14,526.07" stroke="#000" stroke-width="1.55" stroke-linecap="round" fill="none"/>
<path d="M659.85,526.98L659.85,524.03M659.85,526.98L662.66,526.07M659.85,526.98L661.58,529.37M659.85,526.98L658.12,529.37M659.85,526.98L657.04,526.07" stroke="#000" stroke-width="1.55" stroke-linecap="round" fill="none"/>
<text x="629.70" y="604.84" font-size="12.7" text-anchor="middle" fill="#000" stroke="#000" stroke-width="0.35">#</text>
<text x="0.10" y="736.70" font-size="21.5" text-anchor="start" fill="#000" >G</text>
<line x1="68.10" y1="731.20" x2="68.10" y2="916.90" stroke="#000" stroke-width="1.8" stroke-linecap="butt"/>
<line x1="62.80" y1="916.00" x2="68.10" y2="916.00" stroke="#000" stroke-width="1.8" stroke-linecap="butt"/>
<text x="61.10" y="920.29" font-size="12.3" text-anchor="end" fill="#000" >0</text>
<line x1="62.80" y1="854.40" x2="68.10" y2="854.40" stroke="#000" stroke-width="1.8" stroke-linecap="butt"/>
<text x="61.10" y="858.69" font-size="12.3" text-anchor="end" fill="#000" >0.4</text>
<line x1="62.80" y1="792.80" x2="68.10" y2="792.80" stroke="#000" stroke-width="1.8" stroke-linecap="butt"/>
<text x="61.10" y="797.09" font-size="12.3" text-anchor="end" fill="#000" >0.8</text>
<line x1="62.80" y1="731.20" x2="68.10" y2="731.20" stroke="#000" stroke-width="1.8" stroke-linecap="butt"/>
<text x="61.10" y="735.49" font-size="12.3" text-anchor="end" fill="#000" >1.2</text>
<line x1="62.80" y1="916.00" x2="312.60" y2="916.00" stroke="#000" stroke-width="1.8" stroke-linecap="butt"/>
<line x1="127.50" y1="916.00" x2="127.50" y2="921.60" stroke="#000" stroke-width="1.8" stroke-linecap="butt"/>
<text x="127.65" y="933.90" font-size="12.3" text-anchor="middle" fill="#000" >SKOV3</text>
<line x1="251.80" y1="916.00" x2="251.80" y2="921.60" stroke="#000" stroke-width="1.8" stroke-linecap="butt"/>
<text x="252.25" y="933.90" font-size="12.3" text-anchor="middle" fill="#000" >OVCAR8</text>
<text x="0" y="0" font-size="12.7" text-anchor="middle" transform="translate(25.40,826.20) rotate(-90)">Relative level of MDA</text>
<text x="0" y="0" font-size="12.7" text-anchor="middle" textLength="112" lengthAdjust="spacing" transform="translate(40.00,827.00) rotate(-90)">(Relative to control)</text>
<rect x="78.50" y="729.90" width="12.60" height="5.40" fill="none" stroke="#000" stroke-width="2.0"/>
<text x="93.30" y="736.40" font-size="9.45" text-anchor="start" fill="#000" >pcDNA3.1</text>
<rect x="144.90" y="729.90" width="13.70" height="5.40" fill="none" stroke="#4D5EBB" stroke-width="2.0"/>
<text x="161.00" y="736.40" font-size="9.45" text-anchor="start" fill="#000" >SPHK1</text>
<rect x="200.70" y="729.90" width="13.40" height="5.40" fill="none" stroke="#A3222C" stroke-width="2.0"/>
<text x="216.90" y="736.40" font-size="9.45" text-anchor="start" fill="#000" >Ola</text>
<rect x="244.50" y="729.90" width="13.40" height="5.40" fill="#93B7DE" stroke="#000" stroke-width="2.0"/>
<text x="260.60" y="736.40" font-size="9.45" text-anchor="start" fill="#000" >SPHK1+Ola</text>
<line x1="89.20" y1="762.40" x2="89.20" y2="759.00" stroke="#000" stroke-width="1.7" stroke-linecap="butt"/>
<line x1="84.30" y1="759.00" x2="94.10" y2="759.00" stroke="#000" stroke-width="1.7" stroke-linecap="butt"/>
<path d="M80.20,916.00V762.40H98.20V916.00" fill="none" stroke="#000" stroke-width="3.0" stroke-linejoin="miter"/>
<circle cx="80.90" cy="761.10" r="1.60" fill="#000"/>
<circle cx="97.50" cy="761.10" r="1.60" fill="#000"/>
<circle cx="89.20" cy="758.00" r="1.50" fill="#000"/>
<line x1="115.00" y1="801.40" x2="115.00" y2="793.70" stroke="#4D5EBB" stroke-width="1.9" stroke-linecap="butt"/>
<line x1="110.00" y1="793.70" x2="120.00" y2="793.70" stroke="#4D5EBB" stroke-width="1.9" stroke-linecap="butt"/>
<path d="M106.10,916.00V801.40H123.90V916.00" fill="none" stroke="#4D5EBB" stroke-width="3.0" stroke-linejoin="miter"/>
<rect x="109.30" y="794.30" width="3.60" height="3.60" fill="#000"/>
<rect x="116.90" y="795.90" width="3.60" height="3.60" fill="#000"/>
<rect x="113.00" y="805.20" width="3.60" height="3.60" fill="#000"/>
<line x1="140.70" y1="829.80" x2="140.70" y2="819.90" stroke="#A3222C" stroke-width="1.9" stroke-linecap="butt"/>
<line x1="135.70" y1="819.90" x2="145.70" y2="819.90" stroke="#A3222C" stroke-width="1.9" stroke-linecap="butt"/>
<path d="M131.80,916.00V829.80H149.60V916.00" fill="none" stroke="#A3222C" stroke-width="3.0" stroke-linejoin="miter"/>
<path d="M140.50,818.81L142.66,822.59L138.34,822.59Z" fill="#000"/>
<path d="M140.50,826.01L142.66,829.79L138.34,829.79Z" fill="#000"/>
<path d="M140.50,836.11L142.66,839.89L138.34,839.89Z" fill="#000"/>
<line x1="166.70" y1="857.10" x2="166.70" y2="846.80" stroke="#000" stroke-width="1.9" stroke-linecap="butt"/>
<line x1="161.85" y1="846.80" x2="171.55" y2="846.80" stroke="#000" stroke-width="1.9" stroke-linecap="butt"/>
<path d="M157.80,916.00V857.10H175.60V916.00" fill="#93B7DE" stroke="#000" stroke-width="3.0" stroke-linejoin="miter"/>
<path d="M166.50,848.29L168.66,844.51L164.34,844.51Z" fill="#000"/>
<path d="M166.50,857.09L168.66,853.31L164.34,853.31Z" fill="#000"/>
<path d="M166.50,865.59L168.66,861.81L164.34,861.81Z" fill="#000"/>
<line x1="213.25" y1="762.40" x2="213.25" y2="759.00" stroke="#000" stroke-width="1.7" stroke-linecap="butt"/>
<line x1="208.35" y1="759.00" x2="218.15" y2="759.00" stroke="#000" stroke-width="1.7" stroke-linecap="butt"/>
<path d="M204.10,916.00V762.40H222.40V916.00" fill="none" stroke="#000" stroke-width="3.0" stroke-linejoin="miter"/>
<circle cx="204.80" cy="761.10" r="1.60" fill="#000"/>
<circle cx="221.70" cy="761.10" r="1.60" fill="#000"/>
<circle cx="213.25" cy="758.00" r="1.50" fill="#000"/>
<line x1="238.85" y1="797.40" x2="238.85" y2="791.30" stroke="#4D5EBB" stroke-width="1.9" stroke-linecap="butt"/>
<line x1="234.00" y1="791.30" x2="243.70" y2="791.30" stroke="#4D5EBB" stroke-width="1.9" stroke-linecap="butt"/>
<path d="M230.10,916.00V797.40H247.60V916.00" fill="none" stroke="#4D5EBB" stroke-width="3.0" stroke-linejoin="miter"/>
<rect x="237.10" y="789.20" width="3.60" height="3.60" fill="#000"/>
<rect x="237.10" y="795.60" width="3.60" height="3.60" fill="#000"/>
<rect x="237.10" y="799.30" width="3.60" height="3.60" fill="#000"/>
<line x1="264.75" y1="833.80" x2="264.75" y2="823.60" stroke="#A3222C" stroke-width="1.9" stroke-linecap="butt"/>
<line x1="259.65" y1="823.60" x2="269.85" y2="823.60" stroke="#A3222C" stroke-width="1.9" stroke-linecap="butt"/>
<path d="M256.00,916.00V833.80H273.50V916.00" fill="none" stroke="#A3222C" stroke-width="3.0" stroke-linejoin="miter"/>
<path d="M264.60,822.81L266.76,826.59L262.44,826.59Z" fill="#000"/>
<path d="M264.60,828.41L266.76,832.19L262.44,832.19Z" fill="#000"/>
<path d="M264.60,840.91L266.76,844.69L262.44,844.69Z" fill="#000"/>
<line x1="290.90" y1="852.30" x2="290.90" y2="843.60" stroke="#000" stroke-width="1.9" stroke-linecap="butt"/>
<line x1="285.75" y1="843.60" x2="296.05" y2="843.60" stroke="#000" stroke-width="1.9" stroke-linecap="butt"/>
<path d="M282.00,916.00V852.30H299.80V916.00" fill="#93B7DE" stroke="#000" stroke-width="3.0" stroke-linejoin="miter"/>
<path d="M290.70,844.99L292.86,841.21L288.54,841.21Z" fill="#000"/>
<path d="M290.70,852.29L292.86,848.51L288.54,848.51Z" fill="#000"/>
<path d="M290.70,859.19L292.86,855.41L288.54,855.41Z" fill="#000"/>
<path d="M116.00,785.58L116.00,782.63M116.00,785.58L118.81,784.67M116.00,785.58L117.73,787.97M116.00,785.58L114.27,787.97M116.00,785.58L113.19,784.67" stroke="#000" stroke-width="1.55" stroke-linecap="round" fill="none"/>
<path d="M141.20,814.48L141.20,811.53M141.20,814.48L144.01,813.57M141.20,814.48L142.93,816.87M141.20,814.48L139.47,816.87M141.20,814.48L138.39,813.57" stroke="#000" stroke-width="1.55" stroke-linecap="round" fill="none"/>
<path d="M162.85,840.18L162.85,837.23M162.85,840.18L165.66,839.27M162.85,840.18L164.58,842.57M162.85,840.18L161.12,842.57M162.85,840.18L160.04,839.27" stroke="#000" stroke-width="1.55" stroke-linecap="round" fill="none"/>
<path d="M171.75,840.18L171.75,837.23M171.75,840.18L174.56,839.27M171.75,840.18L173.48,842.57M171.75,840.18L170.02,842.57M171.75,840.18L168.94,839.27" stroke="#000" stroke-width="1.55" stroke-linecap="round" fill="none"/>
<path d="M239.30,783.98L239.30,781.03M239.30,783.98L242.11,783.07M239.30,783.98L241.03,786.37M239.30,783.98L237.57,786.37M239.30,783.98L236.49,783.07" stroke="#000" stroke-width="1.55" stroke-linecap="round" fill="none"/>
<path d="M264.60,815.28L264.60,812.33M264.60,815.28L267.41,814.37M264.60,815.28L266.33,817.67M264.60,815.28L262.87,817.67M264.60,815.28L261.79,814.37" stroke="#000" stroke-width="1.55" stroke-linecap="round" fill="none"/>
<path d="M286.65,834.58L286.65,831.63M286.65,834.58L289.46,833.67M286.65,834.58L288.38,836.97M286.65,834.58L284.92,836.97M286.65,834.58L283.84,833.67" stroke="#000" stroke-width="1.55" stroke-linecap="round" fill="none"/>
<path d="M295.55,834.58L295.55,831.63M295.55,834.58L298.36,833.67M295.55,834.58L297.28,836.97M295.55,834.58L293.82,836.97M295.55,834.58L292.74,833.67" stroke="#000" stroke-width="1.55" stroke-linecap="round" fill="none"/>
<text x="369.00" y="736.50" font-size="21.5" text-anchor="start" fill="#000" >H</text>
<line x1="435.50" y1="732.40" x2="435.50" y2="918.80" stroke="#000" stroke-width="1.8" stroke-linecap="butt"/>
<line x1="430.20" y1="917.90" x2="435.50" y2="917.90" stroke="#000" stroke-width="1.8" stroke-linecap="butt"/>
<text x="427.50" y="922.19" font-size="12.3" text-anchor="end" fill="#000" >0</text>
<line x1="430.20" y1="856.07" x2="435.50" y2="856.07" stroke="#000" stroke-width="1.8" stroke-linecap="butt"/>
<text x="427.50" y="860.36" font-size="12.3" text-anchor="end" fill="#000" >0.4</text>
<line x1="430.20" y1="794.23" x2="435.50" y2="794.23" stroke="#000" stroke-width="1.8" stroke-linecap="butt"/>
<text x="427.50" y="798.53" font-size="12.3" text-anchor="end" fill="#000" >0.8</text>
<line x1="430.20" y1="732.40" x2="435.50" y2="732.40" stroke="#000" stroke-width="1.8" stroke-linecap="butt"/>
<text x="427.50" y="736.69" font-size="12.3" text-anchor="end" fill="#000" >1.2</text>
<line x1="430.20" y1="917.90" x2="680.10" y2="917.90" stroke="#000" stroke-width="1.8" stroke-linecap="butt"/>
<line x1="495.20" y1="917.90" x2="495.20" y2="923.50" stroke="#000" stroke-width="1.8" stroke-linecap="butt"/>
<text x="492.00" y="933.80" font-size="12.3" text-anchor="middle" fill="#000" >SKOV3</text>
<line x1="619.60" y1="917.90" x2="619.60" y2="923.50" stroke="#000" stroke-width="1.8" stroke-linecap="butt"/>
<text x="616.70" y="933.80" font-size="12.3" text-anchor="middle" fill="#000" >OVCAR8</text>
<text x="0" y="0" font-size="12.7" text-anchor="middle" transform="translate(393.00,826.90) rotate(-90)">Relative level of ROS</text>
<text x="0" y="0" font-size="12.7" text-anchor="middle" textLength="112" lengthAdjust="spacing" transform="translate(407.30,827.70) rotate(-90)">(Relative to control)</text>
<rect x="451.30" y="730.00" width="11.90" height="5.30" fill="none" stroke="#000" stroke-width="2.0"/>
<text x="465.40" y="736.40" font-size="9.45" text-anchor="start" fill="#000" >pcDNA3.1</text>
<rect x="517.00" y="730.00" width="13.70" height="5.30" fill="none" stroke="#4D5EBB" stroke-width="2.0"/>
<text x="533.10" y="736.40" font-size="9.45" text-anchor="start" fill="#000" >SPHK1</text>
<rect x="572.10" y="730.00" width="13.90" height="5.30" fill="none" stroke="#A3222C" stroke-width="2.0"/>
<text x="588.60" y="736.40" font-size="9.45" text-anchor="start" fill="#000" >Ola</text>
<rect x="616.20" y="730.00" width="13.70" height="5.30" fill="#93B7DE" stroke="#000" stroke-width="2.0"/>
<text x="633.30" y="736.40" font-size="9.45" text-anchor="start" fill="#000" >SPHK1+Ola</text>
<line x1="456.45" y1="764.00" x2="456.45" y2="760.60" stroke="#000" stroke-width="1.7" stroke-linecap="butt"/>
<line x1="451.55" y1="760.60" x2="461.35" y2="760.60" stroke="#000" stroke-width="1.7" stroke-linecap="butt"/>
<path d="M447.30,917.90V764.00H465.60V917.90" fill="none" stroke="#000" stroke-width="3.0" stroke-linejoin="miter"/>
<circle cx="448.00" cy="762.70" r="1.60" fill="#000"/>
<circle cx="464.90" cy="762.70" r="1.60" fill="#000"/>
<circle cx="456.45" cy="759.60" r="1.50" fill="#000"/>
<line x1="482.55" y1="793.30" x2="482.55" y2="781.30" stroke="#4D5EBB" stroke-width="1.9" stroke-linecap="butt"/>
<line x1="477.50" y1="781.30" x2="487.60" y2="781.30" stroke="#4D5EBB" stroke-width="1.9" stroke-linecap="butt"/>
<path d="M473.50,917.90V793.30H491.60V917.90" fill="none" stroke="#4D5EBB" stroke-width="3.0" stroke-linejoin="miter"/>
<rect x="480.40" y="779.00" width="3.60" height="3.60" fill="#000"/>
<rect x="480.40" y="790.80" width="3.60" height="3.60" fill="#000"/>
<rect x="480.40" y="800.40" width="3.60" height="3.60" fill="#000"/>
<line x1="508.35" y1="815.00" x2="508.35" y2="805.70" stroke="#A3222C" stroke-width="1.9" stroke-linecap="butt"/>
<line x1="503.20" y1="805.70" x2="513.50" y2="805.70" stroke="#A3222C" stroke-width="1.9" stroke-linecap="butt"/>
<path d="M499.20,917.90V815.00H517.50V917.90" fill="none" stroke="#A3222C" stroke-width="3.0" stroke-linejoin="miter"/>
<path d="M508.30,804.31L510.46,808.09L506.14,808.09Z" fill="#000"/>
<path d="M508.30,811.51L510.46,815.29L506.14,815.29Z" fill="#000"/>
<path d="M508.30,820.41L510.46,824.19L506.14,824.19Z" fill="#000"/>
<line x1="534.35" y1="828.50" x2="534.35" y2="820.70" stroke="#000" stroke-width="1.9" stroke-linecap="butt"/>
<line x1="529.65" y1="820.70" x2="539.05" y2="820.70" stroke="#000" stroke-width="1.9" stroke-linecap="butt"/>
<path d="M525.20,917.90V828.50H543.50V917.90" fill="#93B7DE" stroke="#000" stroke-width="3.0" stroke-linejoin="miter"/>
<path d="M534.30,822.99L536.46,819.21L532.14,819.21Z" fill="#000"/>
<path d="M534.30,827.39L536.46,823.61L532.14,823.61Z" fill="#000"/>
<path d="M534.30,834.59L536.46,830.81L532.14,830.81Z" fill="#000"/>
<line x1="580.80" y1="764.40" x2="580.80" y2="761.00" stroke="#000" stroke-width="1.7" stroke-linecap="butt"/>
<line x1="575.90" y1="761.00" x2="585.70" y2="761.00" stroke="#000" stroke-width="1.7" stroke-linecap="butt"/>
<path d="M571.80,917.90V764.40H589.80V917.90" fill="none" stroke="#000" stroke-width="3.0" stroke-linejoin="miter"/>
<circle cx="572.50" cy="763.10" r="1.60" fill="#000"/>
<circle cx="589.10" cy="763.10" r="1.60" fill="#000"/>
<circle cx="580.80" cy="760.00" r="1.50" fill="#000"/>
<line x1="606.75" y1="824.70" x2="606.75" y2="813.80" stroke="#4D5EBB" stroke-width="1.9" stroke-linecap="butt"/>
<line x1="601.75" y1="813.80" x2="611.75" y2="813.80" stroke="#4D5EBB" stroke-width="1.9" stroke-linecap="butt"/>
<path d="M597.70,917.90V824.70H615.80V917.90" fill="none" stroke="#4D5EBB" stroke-width="3.0" stroke-linejoin="miter"/>
<rect x="605.00" y="812.00" width="3.60" height="3.60" fill="#000"/>
<rect x="605.00" y="821.30" width="3.60" height="3.60" fill="#000"/>
<rect x="605.00" y="831.20" width="3.60" height="3.60" fill="#000"/>
<line x1="632.70" y1="804.10" x2="632.70" y2="795.00" stroke="#A3222C" stroke-width="1.9" stroke-linecap="butt"/>
<line x1="627.50" y1="795.00" x2="637.90" y2="795.00" stroke="#A3222C" stroke-width="1.9" stroke-linecap="butt"/>
<path d="M623.40,917.90V804.10H642.00V917.90" fill="none" stroke="#A3222C" stroke-width="3.0" stroke-linejoin="miter"/>
<path d="M628.90,795.81L631.06,799.59L626.74,799.59Z" fill="#000"/>
<path d="M636.50,797.61L638.66,801.39L634.34,801.39Z" fill="#000"/>
<path d="M632.80,809.61L634.96,813.39L630.64,813.39Z" fill="#000"/>
<line x1="658.70" y1="851.20" x2="658.70" y2="846.70" stroke="#000" stroke-width="1.9" stroke-linecap="butt"/>
<line x1="654.10" y1="846.70" x2="663.30" y2="846.70" stroke="#000" stroke-width="1.9" stroke-linecap="butt"/>
<path d="M649.70,917.90V851.20H667.70V917.90" fill="#93B7DE" stroke="#000" stroke-width="3.0" stroke-linejoin="miter"/>
<path d="M655.00,847.89L657.16,844.11L652.84,844.11Z" fill="#000"/>
<path d="M661.00,850.19L663.16,846.41L658.84,846.41Z" fill="#000"/>
<path d="M655.00,855.49L657.16,851.71L652.84,851.71Z" fill="#000"/>
<path d="M482.20,774.38L482.20,771.43M482.20,774.38L485.01,773.47M482.20,774.38L483.93,776.77M482.20,774.38L480.47,776.77M482.20,774.38L479.39,773.47" stroke="#000" stroke-width="1.55" stroke-linecap="round" fill="none"/>
<path d="M508.30,799.28L508.30,796.33M508.30,799.28L511.11,798.37M508.30,799.28L510.03,801.67M508.30,799.28L506.57,801.67M508.30,799.28L505.49,798.37" stroke="#000" stroke-width="1.55" stroke-linecap="round" fill="none"/>
<path d="M529.85,814.28L529.85,811.33M529.85,814.28L532.66,813.37M529.85,814.28L531.58,816.67M529.85,814.28L528.12,816.67M529.85,814.28L527.04,813.37" stroke="#000" stroke-width="1.55" stroke-linecap="round" fill="none"/>
<path d="M538.75,814.28L538.75,811.33M538.75,814.28L541.56,813.37M538.75,814.28L540.48,816.67M538.75,814.28L537.02,816.67M538.75,814.28L535.94,813.37" stroke="#000" stroke-width="1.55" stroke-linecap="round" fill="none"/>
<path d="M606.30,806.18L606.30,803.23M606.30,806.18L609.11,805.27M606.30,806.18L608.03,808.57M606.30,806.18L604.57,808.57M606.30,806.18L603.49,805.27" stroke="#000" stroke-width="1.55" stroke-linecap="round" fill="none"/>
<path d="M632.10,786.38L632.10,783.43M632.10,786.38L634.91,785.47M632.10,786.38L633.83,788.77M632.10,786.38L630.37,788.77M632.10,786.38L629.29,785.47" stroke="#000" stroke-width="1.55" stroke-linecap="round" fill="none"/>
<path d="M653.65,840.18L653.65,837.23M653.65,840.18L656.46,839.27M653.65,840.18L655.38,842.57M653.65,840.18L651.92,842.57M653.65,840.18L650.84,839.27" stroke="#000" stroke-width="1.55" stroke-linecap="round" fill="none"/>
<path d="M662.55,840.18L662.55,837.23M662.55,840.18L665.36,839.27M662.55,840.18L664.28,842.57M662.55,840.18L660.82,842.57M662.55,840.18L659.74,839.27" stroke="#000" stroke-width="1.55" stroke-linecap="round" fill="none"/>
</svg>
</body></html>
